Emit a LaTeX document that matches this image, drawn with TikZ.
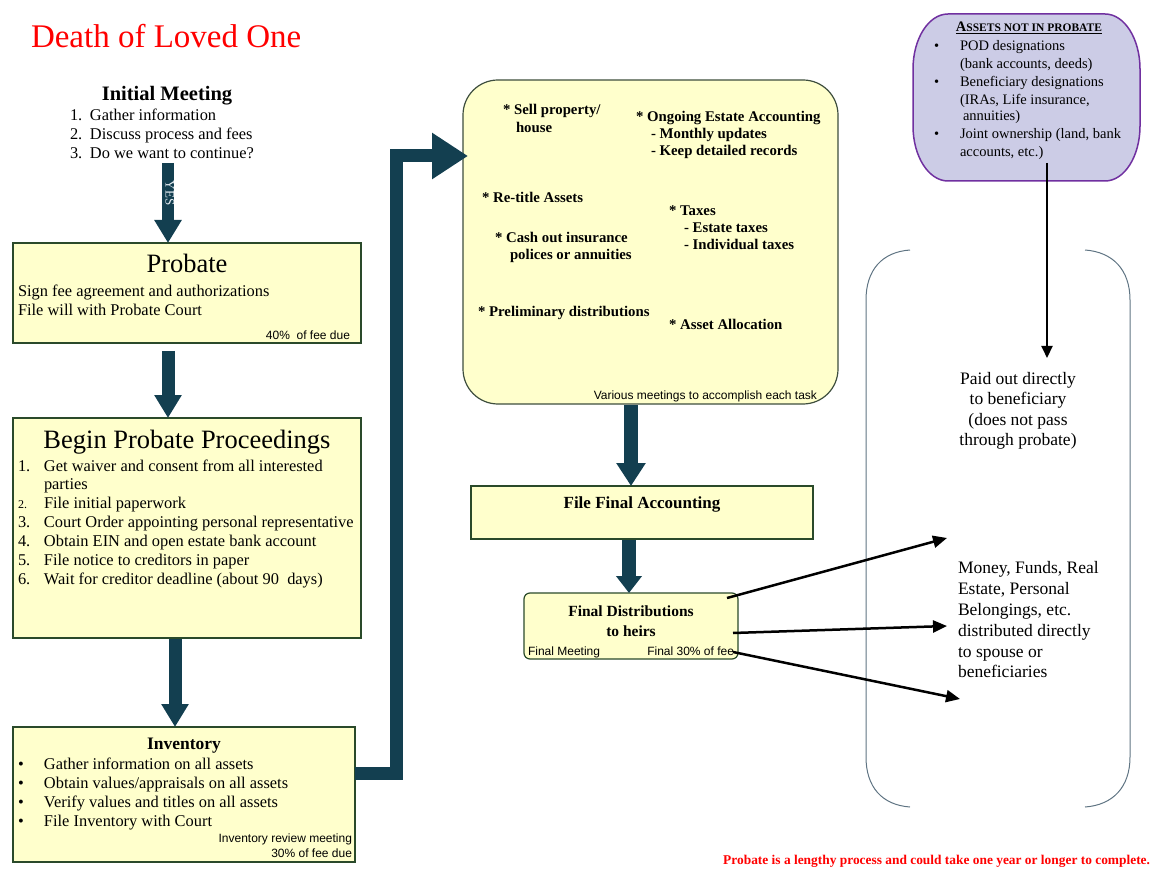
\documentclass[tikz,border=0pt]{standalone}
\usepackage{fontspec}
\setmainfont{Liberation Serif}
\newfontfamily\sansf{Liberation Sans}
\usetikzlibrary{arrows.meta,calc}
\definecolor{boxfill}{HTML}{FFFFCC}
\definecolor{boxline}{HTML}{2A4A2A}
\definecolor{rbline}{HTML}{3E4E3E}
\definecolor{arrowteal}{HTML}{133F50}
\definecolor{lavfill}{HTML}{CCCCE6}
\definecolor{purpline}{HTML}{7030A0}
\definecolor{brkline}{HTML}{5F7483}
\definecolor{titlered}{HTML}{FF0000}
\definecolor{yescol}{HTML}{E4ECF2}
\newcommand{\fsz}[1]{\fontsize{#1}{#1}\selectfont}
\begin{document}
\begin{tikzpicture}[x=1pt,y=-1pt,
  every node/.style={inner sep=0pt, outer sep=0pt},
  box/.style={draw=boxline, line width=2pt, fill=boxfill, anchor=north west},
  txt/.style={anchor=mid west, font=\fsz{16.4}, yshift=-2pt},
  ctxt/.style={anchor=mid, font=\fsz{16.4}, yshift=-2pt},
  note/.style={anchor=mid east, font=\sansf\fsz{12}, yshift=-1.5pt},
  rbt/.style={anchor=mid west, font=\bfseries\fsz{14.8}, yshift=-1.5pt},
  atx/.style={anchor=mid west, font=\fsz{14.5}, yshift=-1.5pt},
  blockarrow/.style={draw=arrowteal, line width=13pt, line join=miter,
     -{Triangle[width=26pt,length=23pt]}},
  thinarrow/.style={draw=black, line width=2.5pt, -{Triangle[width=12pt,length=14pt]}},
]
\useasboundingbox (0,0) rectangle (1156,874);

% title
\node[anchor=mid west, font=\fsz{33}, text=titlered] (title) at (31,45) {Death of Loved One};

% initial meeting
\node[ctxt, font=\bfseries\fsz{20.5}] (im) at (167,96) {Initial Meeting};
\node[txt] (im1) at (70,116) {\makebox[20pt][l]{1.}Gather information};
\node[txt] (im2) at (70,135) {\makebox[20pt][l]{2.}Discuss process and fees};
\node[txt] (im3) at (70,154) {\makebox[20pt][l]{3.}Do we want to continue?};

% probate
\node[box, minimum width=348pt, minimum height=100pt] (probate) at (13,243) {};
\node[ctxt, font=\fsz{26.5}] (probh) at (187,268) {Probate};
\node[txt] (prob1) at (18,292) {Sign fee agreement and authorizations};
\node[txt] (prob2) at (18,311) {File will with Probate Court};
\node[note] (prob3) at (350,336) {40\%\ \ of fee due};

% begin probate proceedings
\node[box, minimum width=348pt, minimum height=220pt] (begin) at (13,418) {};
\node[ctxt, font=\fsz{26.5}] (beginh) at (187,444) {Begin Probate Proceedings};
\node[txt] (b1) at (18,467) {\makebox[26pt][l]{1.}Get waiver and consent from all interested};
\node[txt] (b1b) at (44,485) {parties};
\node[txt] (b2) at (18,504) {\makebox[26pt][l]{\fsz{12}2.}File initial paperwork};
\node[txt] (b3) at (18,523) {\makebox[26pt][l]{3.}Court Order appointing personal representative};
\node[txt] (b4) at (18,542) {\makebox[26pt][l]{4.}Obtain EIN and open estate bank account};
\node[txt] (b5) at (18,561) {\makebox[26pt][l]{5.}File notice to creditors in paper};
\node[txt] (b6) at (18,580) {\makebox[26pt][l]{6.}Wait for creditor deadline (about 90\ \ days)};

% inventory
\node[box, minimum width=342pt, minimum height=135pt] (inv) at (13,727) {};
\node[ctxt, font=\bfseries\fsz{17.5}] (invh) at (184,745) {Inventory};
\node[txt] (i1) at (18,765) {\makebox[26pt][l]{\textbullet}Gather information on all assets};
\node[txt] (i2) at (18,784) {\makebox[26pt][l]{\textbullet}Obtain values/appraisals on all assets};
\node[txt] (i3) at (18,803) {\makebox[26pt][l]{\textbullet}Verify values and titles on all assets};
\node[txt] (i4) at (18,822) {\makebox[26pt][l]{\textbullet}File Inventory with Court};
\node[note] (i5) at (352,839) {Inventory review meeting};
\node[note] (i6) at (352,854) {30\% of fee due};

% rounded task box
\node[draw=rbline, line width=1.2pt, fill=boxfill, rounded corners=35pt,
      minimum width=375pt, minimum height=324pt, anchor=north west] (rb) at (463,80) {};
\node[rbt] (t1) at (503,111) {* Sell property/};
\node[rbt] (t1b) at (516,129) {house};
\node[rbt] (t2) at (636,118) {* Ongoing Estate Accounting};
\node[rbt] (t2b) at (651,135) {- Monthly updates};
\node[rbt] (t2c) at (651,152) {- Keep detailed records};
\node[rbt] (t3) at (482,199) {* Re-title Assets};
\node[rbt] (t4) at (669,212) {* Taxes};
\node[rbt] (t4b) at (684,229) {- Estate taxes};
\node[rbt] (t4c) at (684,246) {- Individual taxes};
\node[rbt] (t5) at (495,239) {* Cash out insurance};
\node[rbt] (t5b) at (510,256) {polices or annuities};
\node[rbt] (t6) at (478,313) {* Preliminary distributions};
\node[rbt] (t7) at (669,326) {* Asset Allocation};
\node[note] (t8) at (817,396) {Various meetings to accomplish each task};

% file final accounting
\node[box, minimum width=342pt, minimum height=53pt] (ffa) at (471,486) {};
\node[ctxt, font=\bfseries\fsz{17}] (ffat) at (642,504) {File Final Accounting};

% final distributions
\node[draw=boxline, line width=1.2pt, fill=boxfill, rounded corners=6pt,
      minimum width=214pt, minimum height=66pt, anchor=north west] (fd) at (524,593) {};
\node[ctxt, font=\bfseries\fsz{15.5}] (fdt1) at (631,612) {Final Distributions};
\node[ctxt, font=\bfseries\fsz{15.5}] (fdt2) at (631,632) {to heirs};
\node[note, anchor=mid west] (fdt3) at (528,652) {Final Meeting};
\node[note] (fdt4) at (734,652) {Final 30\% of fee};

% block arrows
\coordinate (a1s) at (168,163);
\draw[blockarrow, line width=12pt] (a1s) -- (a1s |- probate.north);
\node[anchor=mid, rotate=-90, font=\fsz{13}, text=yescol] (yes) at (168,193) {YES};
\coordinate (a2s) at (168,351);
\draw[blockarrow] (a2s) -- (a2s |- begin.north);
\coordinate (a3s) at (175,639);
\draw[blockarrow] (a3s) -- (a3s |- inv.north);
\coordinate (elbow1) at (396,773);
\coordinate (elbow2) at (396,156);
\coordinate (elbtip) at (468,156);
\draw[blockarrow, -{Triangle[width=44pt,length=36pt]}] (inv.east |- elbow1) -- (elbow1) -- (elbow2) -- (elbtip);
\coordinate (a4s) at (631,405);
\draw[blockarrow, line width=14pt, -{Triangle[width=28pt,length=23pt]}] (a4s) -- (a4s |- ffa.north);
\coordinate (a5s) at (629,540);
\draw[blockarrow, line width=14pt, -{Triangle[width=25pt,length=17pt]}] (a5s) -- (a5s |- fd.north);

% assets not in probate
\draw[draw=purpline, line width=1.5pt, fill=lavfill]
  (948,14) -- (1105,14) arc[start angle=-90, end angle=0, x radius=35, y radius=55]
  -- (1140,126) arc[start angle=0, end angle=90, x radius=35, y radius=55]
  -- (948,181) arc[start angle=90, end angle=180, x radius=35, y radius=55]
  -- (913,69) arc[start angle=180, end angle=270, x radius=35, y radius=55] -- cycle;
\node[anchor=mid, font=\bfseries, yshift=-1.5pt] (ah) at (1029,28) {\underline{{\fsz{14.5}A}{\fsz{11.5}SSETS NOT IN PROBATE}}};
\node[atx] (a1) at (934,47) {\makebox[26pt][l]{\textbullet}POD designations};
\node[atx] (a1b) at (960,65) {(bank accounts, deeds)};
\node[atx] (a2) at (934,83) {\makebox[26pt][l]{\textbullet}Beneficiary designations};
\node[atx] (a2b) at (960,101) {(IRAs, Life insurance,};
\node[atx] (a2c) at (963,117) {annuities)};
\node[atx] (a3) at (934,135) {\makebox[26pt][l]{\textbullet}Joint ownership (land, bank};
\node[atx] (a3b) at (960,153) {accounts, etc.)};

\coordinate (v1) at (1047,163);
\coordinate (v2) at (1047,358);
\draw[draw=black, line width=2pt, -{Triangle[width=11pt,length=12pt]}] (v1) -- (v2);

% brackets
\draw[brkline, line width=1pt] (910,250) .. controls (882,252) and (866,270) .. (866,300)
  -- (866,757) .. controls (866,787) and (882,805) .. (910,807);
\draw[brkline, line width=1pt] (1085,250) .. controls (1113,252) and (1130,270) .. (1130,300)
  -- (1130,757) .. controls (1130,787) and (1113,805) .. (1085,807);

\node[anchor=center, align=center, font=\fontsize{17.5}{20.5}\selectfont] (paid) at (1018,411)
  {Paid out directly\\to beneficiary\\(does not pass\\through probate)};
\node[anchor=west, align=left, font=\fontsize{17.5}{20.8}\selectfont] (money) at (958,620)
  {Money, Funds, Real\\Estate, Personal\\Belongings, etc.\\distributed directly\\to spouse or\\beneficiaries};

% thin arrows
\coordinate (f1s) at (727,598);
\coordinate (f1e) at (947,538);
\coordinate (f2s) at (733,633);
\coordinate (f2e) at (947,626);
\coordinate (f3s) at (733,652);
\coordinate (f3e) at (960,699);
\draw[thinarrow] (f1s) -- (f1e);
\draw[thinarrow] (f2s) -- (f2e);
\draw[thinarrow] (f3s) -- (f3e);

% footer
\node[anchor=mid east, font=\bfseries\fsz{13.4}, text=titlered, yshift=-1.5pt] (footer) at (1150,861)
  {Probate is a lengthy process and could take one year or longer to complete.};
\end{tikzpicture}
\end{document}
